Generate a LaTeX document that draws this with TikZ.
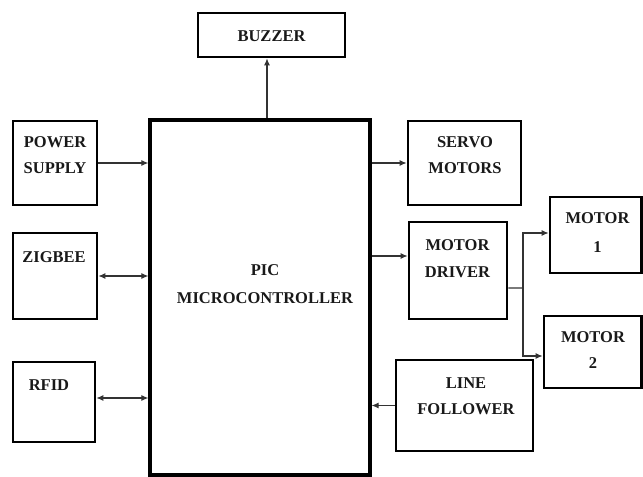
\documentclass[tikz,border=0pt]{standalone}
\usepackage{fontspec}
\setmainfont{Liberation Serif}
\usetikzlibrary{arrows.meta}
\begin{document}
\begin{tikzpicture}[x=1bp,y=-1bp,
 box/.style={draw=black, line width=2.8bp, rectangle, inner sep=0pt},
 lbl/.style={font=\fontsize{16.5bp}{20bp}\selectfont\bfseries, text=black!90, inner sep=0pt, anchor=base},
 conn/.style={line width=1.1bp, draw=black!80},
 tip/.tip={Latex[length=7bp,width=6bp]},
 arr/.style={conn, -tip},
 darr/.style={conn, tip-tip}]
\useasboundingbox[fill=white] (0,0) rectangle (643,477);
% boxes
\node[box, line width=3.2bp, minimum width=220bp, minimum height=355bp] (pic) at (260,297.5) {};
\node[box, minimum width=147bp, minimum height=44bp] (buzzer) at (271.5,35) {};
\node[box, minimum width=84bp, minimum height=84bp] (power) at (55,163) {};
\node[box, minimum width=84bp, minimum height=86bp] (zigbee) at (55,276) {};
\node[box, minimum width=82bp, minimum height=80bp] (rfid) at (54,402) {};
\node[box, minimum width=113bp, minimum height=84bp] (servo) at (464.5,163) {};
\node[box, minimum width=98bp, minimum height=97bp] (driver) at (458,270.5) {};
\node[box, minimum width=91.5bp, minimum height=76bp] (motor1) at (595.75,235) {};
\node[box, minimum width=97.5bp, minimum height=72bp] (motor2) at (592.75,352) {};
\node[box, minimum width=137bp, minimum height=91bp] (line) at (464.5,405.5) {};
% labels
\node[lbl] (tbuzzer) at (271.5,41.5) {BUZZER};
\node[lbl] (tpic1) at (265,275.5) {PIC};
\node[lbl] (tpic2) at (265,303.5) {MICROCONTROLLER};
\node[lbl] (tpow1) at (55,147.5) {POWER};
\node[lbl] (tpow2) at (55,173.5) {SUPPLY};
\node[lbl] (tzig) at (54,262.5) {ZIGBEE};
\node[lbl] (trfid) at (49,390.5) {RFID};
\node[lbl] (tser1) at (465,147.5) {SERVO};
\node[lbl] (tser2) at (465,173.5) {MOTORS};
\node[lbl] (tdrv1) at (457.5,250.5) {MOTOR};
\node[lbl] (tdrv2) at (457.5,277.5) {DRIVER};
\node[lbl] (tm11) at (597.5,223.5) {MOTOR};
\node[lbl] (tm12) at (597.5,252.5) {1};
\node[lbl] (tm21) at (593,342.5) {MOTOR};
\node[lbl] (tm22) at (593,368.5) {2};
\node[lbl] (tlin1) at (466,388.5) {LINE};
\node[lbl] (tlin2) at (466,414.5) {FOLLOWER};
% connectors
\draw[arr] (power.east) -- (power.east -| pic.west);
\draw[darr] (zigbee.east) -- (zigbee.east -| pic.west);
\draw[darr] ([yshift=4bp]rfid.east) -- ([yshift=4bp]rfid.east -| pic.west);
\coordinate (bz) at ([xshift=-4.5bp]buzzer.south);
\draw[arr] (bz |- pic.north) -- (bz);
\draw[arr] (servo.west -| pic.east) -- (servo.west);
\coordinate (dr) at ([yshift=14.5bp]driver.west);
\draw[arr] (dr -| pic.east) -- (dr);
\draw[arr] (line.west) -- (line.west -| pic.east);
\coordinate (dx) at ([yshift=-17.5bp]driver.east);
\coordinate (j) at (523,288);
\coordinate (j1) at (523,233);
\coordinate (j2) at (523,356);
\draw[conn] (dx) -- (j);
\draw[arr] (j) -- (j1) -- (j1 -| motor1.west);
\draw[arr] (j) -- (j2) -- (j2 -| motor2.west);
\end{tikzpicture}
\end{document}
